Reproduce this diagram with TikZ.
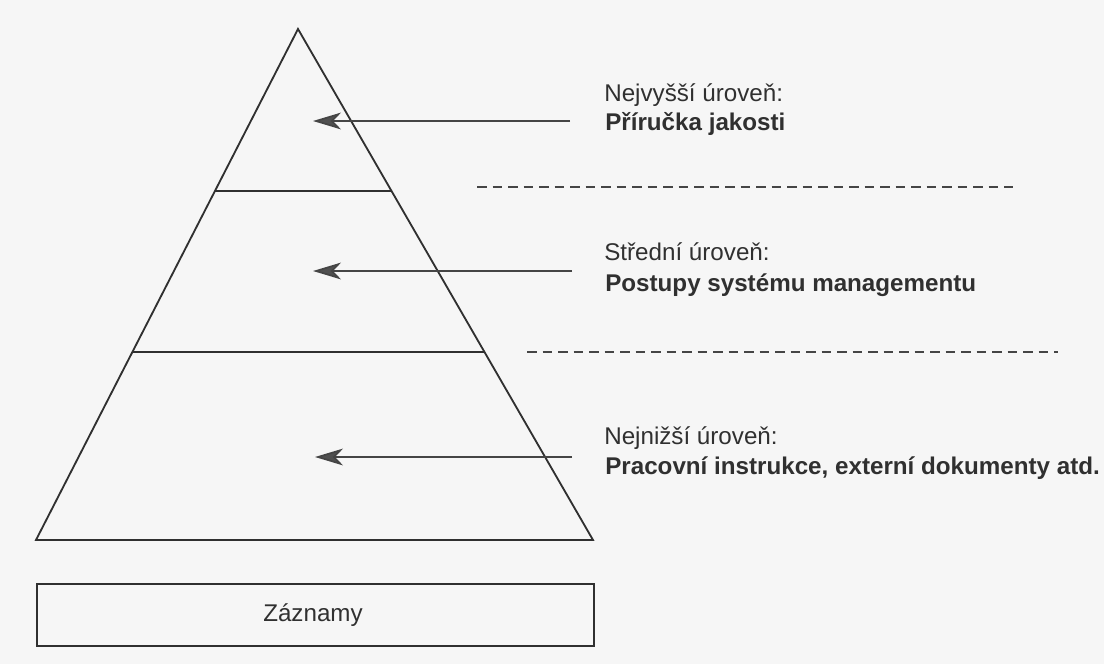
\documentclass[tikz,border=0pt]{standalone}
\usepackage{fontspec}
\setmainfont{Liberation Sans}
\usetikzlibrary{arrows.meta,calc}
\definecolor{ink}{HTML}{303030}
\definecolor{paper}{HTML}{F6F6F6}
\definecolor{tipgrey}{HTML}{505050}
\begin{document}
\begin{tikzpicture}[x=0.025cm,y=-0.025cm,
  outline/.style={draw=ink,line width=1.3pt,line join=miter},
  level/.style={draw=ink,line width=1.1pt},
  pointer/.style={draw=ink!90,line width=1.2pt,
    -{Stealth[length=0.7cm,width=0.42cm,inset=0.2cm,fill=tipgrey]}},
  divider/.style={draw=ink!90,line width=0.9pt,dash pattern=on 0.2375cm off 0.15cm},
  lbl/.style={anchor=base west,inner sep=0pt,text=ink,font=\fontsize{17.2}{20}\selectfont},
  title/.style={lbl,font=\fontsize{17.2}{20}\selectfont\bfseries}]
% page
\fill[paper] (0,0) rectangle (1104,664);
\useasboundingbox (0,0) rectangle (1104,664);

% pyramid
\coordinate (apex) at (298,29);
\coordinate (bl) at (36,540);
\coordinate (br) at (593,540);
\draw[outline] (apex) -- (bl) -- (br) -- cycle;

% level separators inside the pyramid
\coordinate (l1a) at ($(apex)!0.317!(bl)$);
\coordinate (l1b) at ($(apex)!0.317!(br)$);
\coordinate (l2a) at ($(apex)!0.632!(bl)$);
\coordinate (l2b) at ($(apex)!0.632!(br)$);
\draw[level] (l1a) -- (l1b);
\draw[level] (l2a) -- (l2b);

% records box
\node[draw=ink,line width=1.2pt,minimum width=557*0.025cm,minimum height=62*0.025cm,
      inner sep=0pt,anchor=north west] (rec) at (36,583) {};
\node[lbl,anchor=base] (rectext) at (313,621) {Záznamy};

% level labels
\node[lbl] (t1) at (604,101.7) {Nejvyšší úroveň:};
\node[title] (b1) at (605,130.7) {Příručka jakosti};
\node[lbl] (t2) at (604,260) {Střední úroveň:};
\node[title] (b2) at (605,291) {Postupy systému managementu};
\node[lbl] (t3) at (604,444) {Nejnižší úroveň:};
\node[title] (b3) at (605,474) {Pracovní instrukce, externí dokumenty atd.};

% pointers into the pyramid
\coordinate (p1s) at (570,121);
\coordinate (p1e) at (313,121);
\coordinate (p2s) at (572,271);
\coordinate (p2e) at (313,271);
\coordinate (p3s) at (572,457);
\coordinate (p3e) at (315,457);
\draw[pointer] (p1s) -- (p1e);
\draw[pointer] (p2s) -- (p2e);
\draw[pointer] (p3s) -- (p3e);

% dashed dividers between the label groups
\coordinate (d1s) at (477,187);
\coordinate (d1e) at (1013,187);
\coordinate (d2s) at (527,352);
\coordinate (d2e) at (1058,352);
\draw[divider] (d1s) -- (d1e);
\draw[divider] (d2s) -- (d2e);
\end{tikzpicture}
\end{document}
